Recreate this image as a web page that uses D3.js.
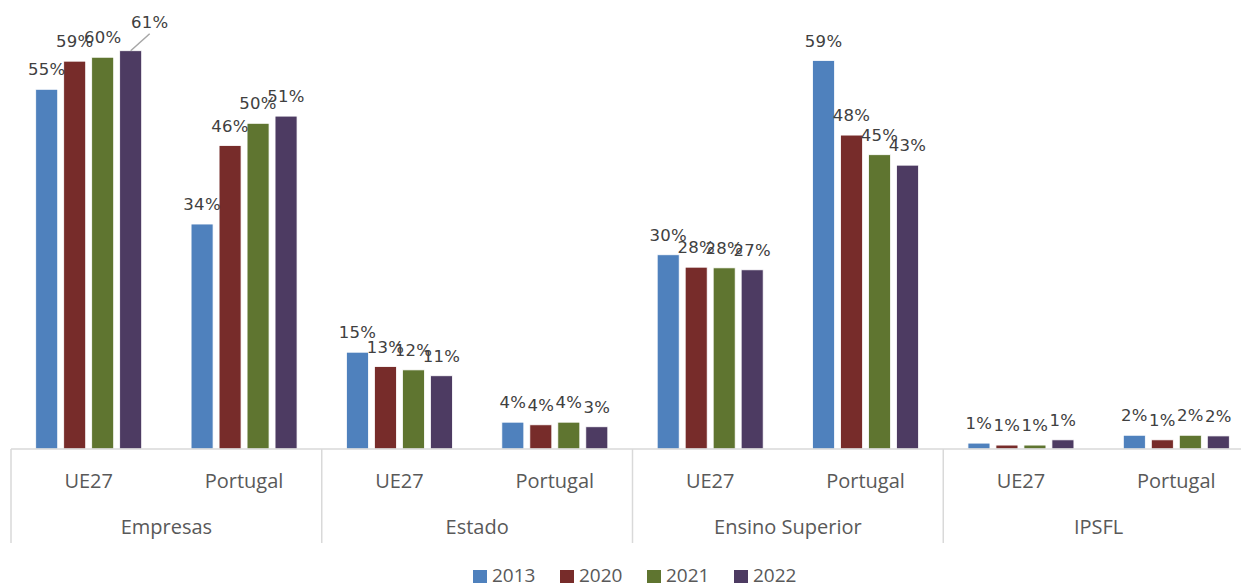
<!DOCTYPE html>
<html lang="pt">
<head>
    <meta charset="UTF-8">
    <title>Despesa em I&D por setor de execução</title>
    <script src="https://d3js.org/d3.v7.min.js"></script>
    <style>
        body {
            margin: 0;
            background: #fff;
        }

        .axis-line {
            stroke: #d9d9d9;
            stroke-width: 1.5px;
        }

        .data-label {
            font-family: "DejaVu Sans", Verdana, sans-serif;
            font-size: 16.5px;
            letter-spacing: 0.3px;
            fill: #404040;
            text-anchor: middle;
        }

        .cat-label, .legend-label {
            font-family: "Open Sans", sans-serif;
            font-size: 20px;
            fill: #595959;
        }

        .legend-label {
            font-size: 19px;
        }
    </style>
</head>
<body>
    <script>
        const width = 1241, height = 587;

        const sectors = ["Empresas", "Estado", "Ensino Superior", "IPSFL"];
        const regions = ["UE27", "Portugal"];
        const years = ["2013", "2020", "2021", "2022"];

        // one value per sector/region pair, same order as sectors x regions
        const v2013 = [55.0, 34.4, 14.8, 4.1, 29.7, 59.4, 0.9, 2.1];
        const v2020 = [59.3, 46.4, 12.6, 3.7, 27.8, 48.0, 0.6, 1.4];
        const v2021 = [59.9, 49.8, 12.1, 4.1, 27.7, 45.0, 0.6, 2.1];
        const v2022 = [60.9, 50.9, 11.2, 3.4, 27.4, 43.4, 1.4, 2.0];
        const seriesValues = [v2013, v2020, v2021, v2022];

        const colors = ["#4f81bd", "#772c2a", "#5f7530", "#4d3b62"];

        const svg = d3.select("body").append("svg")
            .attr("width", width)
            .attr("height", height);

        const baseY = 449;
        const x0 = d3.scaleBand().domain(sectors).range([11, 1254]);
        const x1 = d3.scaleBand().domain(regions).range([0, x0.bandwidth()]);
        const groupPad = 24.7;
        const x2 = d3.scaleBand().domain(years)
            .range([groupPad, x1.bandwidth() - groupPad])
            .paddingInner(0.214);
        const y = d3.scaleLinear().domain([0, 70]).range([baseY, baseY - 70 * 6.54]);

        const bars = [];
        sectors.forEach((s, si) => {
            regions.forEach((r, ri) => {
                years.forEach((yr, yi) => {
                    bars.push({
                        sector: s, region: r, year: yr, yi,
                        value: seriesValues[yi][si * regions.length + ri]
                    });
                });
            });
        });

        // bars
        svg.selectAll(".bar")
            .data(bars)
            .enter()
            .append("rect")
            .attr("class", "bar")
            .attr("x", d => x0(d.sector) + x1(d.region) + x2(d.year))
            .attr("y", d => y(d.value))
            .attr("width", x2.bandwidth())
            .attr("height", d => baseY - y(d.value))
            .attr("fill", d => colors[d.yi])
            .attr("stroke", "#fff")
            .attr("stroke-width", 0.8);

        // axis lines
        svg.append("line")
            .attr("class", "axis-line")
            .attr("x1", 11).attr("x2", width)
            .attr("y1", baseY).attr("y2", baseY);

        svg.selectAll(".divider")
            .data(sectors)
            .enter()
            .append("line")
            .attr("class", "axis-line")
            .attr("x1", d => x0(d)).attr("x2", d => x0(d))
            .attr("y1", baseY).attr("y2", 543);

        // category labels
        sectors.forEach(s => {
            regions.forEach(r => {
                svg.append("text")
                    .attr("class", "cat-label")
                    .attr("text-anchor", "middle")
                    .attr("x", x0(s) + x1(r) + x1.bandwidth() / 2)
                    .attr("y", 488)
                    .text(r);
            });
            svg.append("text")
                .attr("class", "cat-label")
                .attr("text-anchor", "middle")
                .attr("x", x0(s) + x0.bandwidth() / 2)
                .attr("y", 534)
                .text(s);
        });

        // data labels
        const cx = d => x0(d.sector) + x1(d.region) + x2(d.year) + x2.bandwidth() / 2;
        const isCallout = d => d.sector === "Empresas" && d.region === "UE27" && d.year === "2022";

        svg.selectAll(".data-label")
            .data(bars)
            .enter()
            .append("text")
            .attr("class", "data-label")
            .attr("x", d => isCallout(d) ? cx(d) + 19 : cx(d))
            .attr("y", d => isCallout(d) ? y(d.value) - 23 : y(d.value) - 14)
            .text(d => Math.round(d.value) + "%");

        // leader line for the moved label
        bars.filter(isCallout).forEach(d => {
            svg.append("line")
                .attr("x1", cx(d)).attr("y1", y(d.value))
                .attr("x2", cx(d) + 19).attr("y2", y(d.value) - 17)
                .attr("stroke", "#a6a6a6")
                .attr("stroke-width", 1.5);
        });

        // legend
        const legend = svg.append("g");
        years.forEach((yr, i) => {
            const lx = 473 + i * 87;
            legend.append("rect")
                .attr("x", lx).attr("y", 570)
                .attr("width", 14).attr("height", 13)
                .attr("fill", colors[i]);
            legend.append("text")
                .attr("class", "legend-label")
                .attr("x", lx + 19)
                .attr("y", 582)
                .text(yr);
        });
    </script>
</body>
</html>
